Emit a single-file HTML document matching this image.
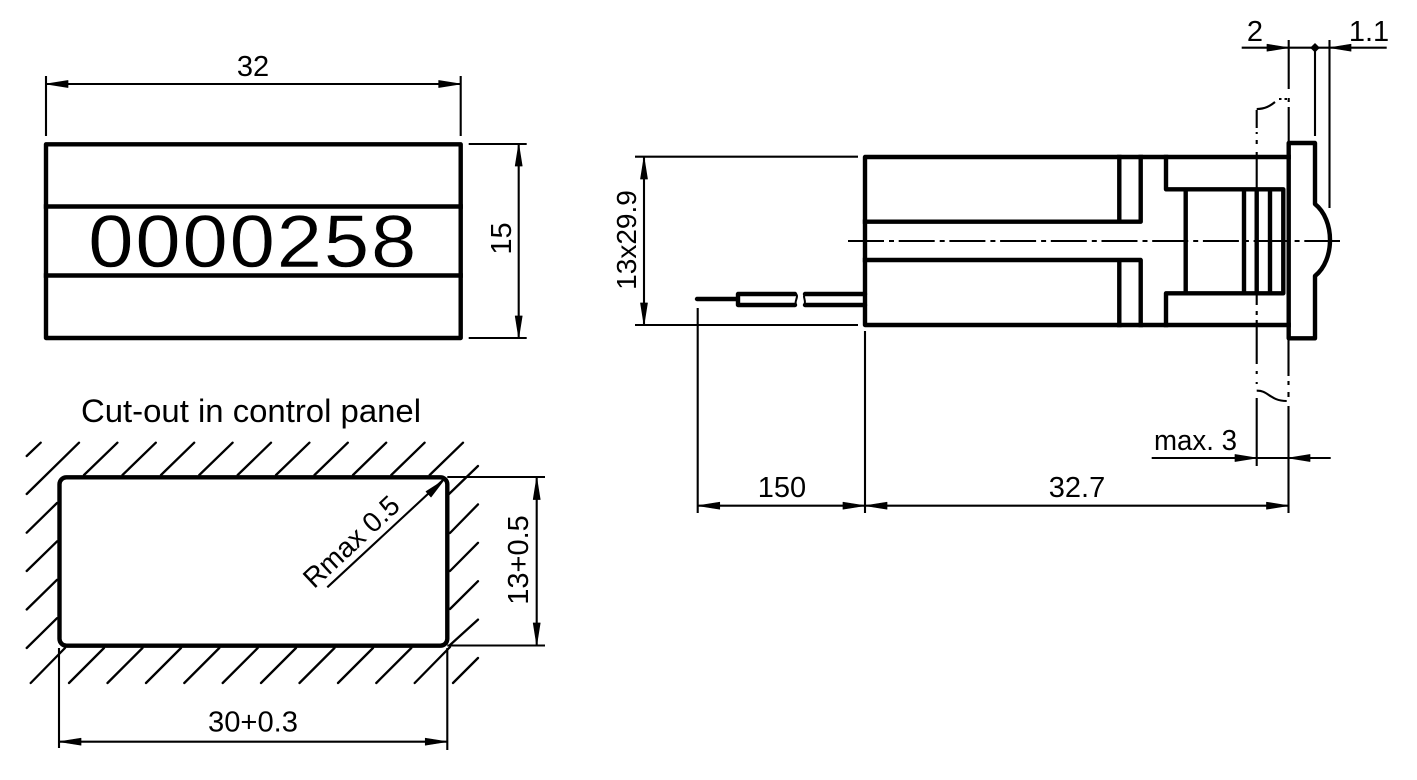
<!DOCTYPE html>
<html><head><meta charset="utf-8"><style>
html,body{margin:0;padding:0;background:#fff}
svg{display:block}
text{font-family:"Liberation Sans",Arial,sans-serif;fill:#000;font-size:29px}
polygon{fill:#000;stroke:#000;stroke-width:.7;stroke-linejoin:round}
.t{stroke:#000;stroke-width:2.1;fill:none}
.k{stroke:#000;stroke-width:4.4;fill:none;stroke-linejoin:round;stroke-linecap:square}
.h{stroke:#000;stroke-width:2.3;fill:none;stroke-linecap:round}
</style></head><body>
<svg width="1417" height="780" viewBox="0 0 1417 780" xmlns="http://www.w3.org/2000/svg">
<!-- Top-left counter -->
<rect class="k" x="46" y="144.3" width="414.7" height="193.7"/>
<path class="k" d="M46 206.5H460.7M46 275.5H460.7"/>
<text transform="translate(88.2,267) scale(1.1,1)" style="font-size:74px;letter-spacing:1.7px;stroke:#fff;stroke-width:.4px">0000258</text>
<path class="t" d="M46 76V136M460.7 76V136M46 84H460.7M468.7 144H526.7M468.7 338H526.7M518.7 144V338"/>
<polygon points="46,84 68,80.5 68,87.5"/><polygon points="460.7,84 438.7,80.5 438.7,87.5"/>
<polygon points="518.7,144 515.2,166 522.2,166"/><polygon points="518.7,338 515.2,316 522.2,316"/>
<text x="253" y="76" text-anchor="middle">32</text>
<text transform="translate(511,238.5) rotate(-90)" text-anchor="middle">15</text>

<!-- Cut-out -->
<text x="81" y="422" textLength="340" lengthAdjust="spacingAndGlyphs" style="font-size:32px">Cut-out in control panel</text>
<path class="h" d="M26.7 456L40.7 442.7M26.7 494L79 442.7M84 475L117.4 442.7M122.5 475L155.8 442.7M161 475L194.2 442.7M199.3 475L232.6 442.7M237.7 475L271 442.7M276 475L309.4 442.7M314.5 475L347.8 442.7M353 475L386.2 442.7M391.3 475L424.6 442.7M429.7 475L463 442.7"/>
<path class="h" d="M26.7 532.7L57 503M26.7 571L57 541.4M26.7 609.5L57 579.8M26.7 648L57 618.2"/>
<path class="h" d="M30.7 683L65 648M69 683L104 648M107.5 683L142.5 648M146 683L181 648M184.3 683L219.3 648M222.7 683L257.7 648M261 683L296 648M299.5 683L334.5 648M338 683L373 648M376.3 683L411.3 648M414.7 683L450 647M453 683L478 658"/>
<path class="h" d="M448 495L478 466M450 533L478 504.4M450 571L478 542.8M450 609L478 581.2M450 645L478 619.6"/>
<rect x="59.5" y="477.3" width="387.8" height="168.4" rx="7" ry="7" fill="#fff" stroke="#000" stroke-width="4.4"/>
<path class="t" d="M447.3 477H545M447.3 645.5H545M536.7 477V645.5M59 648V748M447.3 648V750M59 741.7H447.3"/>
<path class="t" d="M327.3 587.3L443 480"/>
<polygon points="536.7,477.5 533.2,499.5 540.2,499.5"/><polygon points="536.7,645 533.2,623 540.2,623"/>
<polygon points="59,741.7 81,738.2 81,745.2"/><polygon points="447.3,741.7 425.3,738.2 425.3,745.2"/>
<polygon points="444,480 431,497 426,491.5"/>
<text transform="translate(314,589.5) rotate(-43)" style="font-size:28px">Rmax 0.5</text>
<text transform="translate(528,560) rotate(-90)" text-anchor="middle">13+0.5</text>
<text x="208" y="731.5" textLength="90" lengthAdjust="spacingAndGlyphs">30+0.3</text>

<!-- Side view -->
<path class="k" d="M1288.7 157H865V325H1288.7"/>
<path class="k" d="M865 221.7H1140.7V157M1119.3 157V221.7M865 260H1140.7V325M1119.3 260V325"/>
<path class="k" d="M1166 157V189.3H1283.3V293.3H1166V325M1185.7 189.3V293.3M1244 189.3V293.3M1256.7 189.3V293.3M1270 189.3V293.3"/>
<path class="k" d="M1288.7 143H1315V204C1325 212 1330 226 1330 240C1330 254 1325 268 1315 276V338.3H1288.7Z"/>
<path d="M848 241H1340" stroke="#000" stroke-width="2.1" fill="none" stroke-dasharray="36 5 5 4.7"/>
<!-- wire -->
<path class="k" style="stroke-linecap:round" d="M697 299H736M795 294H738V305H795M865 294H805M805 305H865"/>
<path d="M796 294C799 297 794 301 796 305M805 294C802 297 807 301 804 305" stroke="#000" stroke-width="2" fill="none"/>
<!-- dims -->
<path class="t" d="M635 156.7H858M635 325H858M644 157V325M697.7 308V513M865 331V513M697.7 505.7H1288.5"/>
<polygon points="644,157 640.5,179 647.5,179"/><polygon points="644,325 640.5,303 647.5,303"/>
<polygon points="697.7,505.7 719.7,502.2 719.7,509.2"/><polygon points="865,505.7 843,502.2 843,509.2"/><polygon points="865,505.7 887,502.2 887,509.2"/><polygon points="1288.5,505.7 1266.5,502.2 1266.5,509.2"/>
<text transform="translate(636,240) rotate(-90)" text-anchor="middle" style="font-size:28px">13x29.9</text>
<text x="782" y="497" text-anchor="middle">150</text>
<text x="1077" y="497" text-anchor="middle">32.7</text>
<!-- top right dims -->
<path class="t" d="M1241.7 47.7H1386.7M1288.7 40V89M1288.7 98V102M1288.7 107V142M1315 47V136M1329.5 40V208"/>
<polygon points="1288.7,47.7 1267,44.2 1267,51.2"/><polygon points="1329.5,47.7 1351,44.2 1351,51.2"/>
<polygon points="1315,43.5 1319.3,47.7 1315,52 1310.7,47.7"/>
<text x="1255" y="41" text-anchor="middle">2</text>
<text x="1369" y="41" text-anchor="middle">1.1</text>
<!-- panel lines -->
<path class="t" d="M1256.7 110V128M1256.7 132V134M1256.7 140V144M1256.7 152V190M1256.7 295V305M1256.7 311V315M1256.7 320V364M1256.7 371V374M1256.7 382V384M1256.7 398V466"/>
<path class="t" d="M1256.7 109C1265 109 1270 106 1275 102M1279 99H1281.5M1284.5 99H1287"/>
<path class="t" d="M1256.7 390.7C1268 390 1270 401 1286.7 401"/>
<path class="t" d="M1288.5 340V376M1288.5 381V385M1288.5 392V397M1288.5 406V513"/>
<path class="t" d="M1151.7 458H1330.7"/>
<polygon points="1256.7,458 1235,454.5 1235,461.5"/><polygon points="1288.5,458 1310,454.5 1310,461.5"/>
<text x="1154" y="450" textLength="83" lengthAdjust="spacingAndGlyphs">max. 3</text>
</svg>
</body></html>
